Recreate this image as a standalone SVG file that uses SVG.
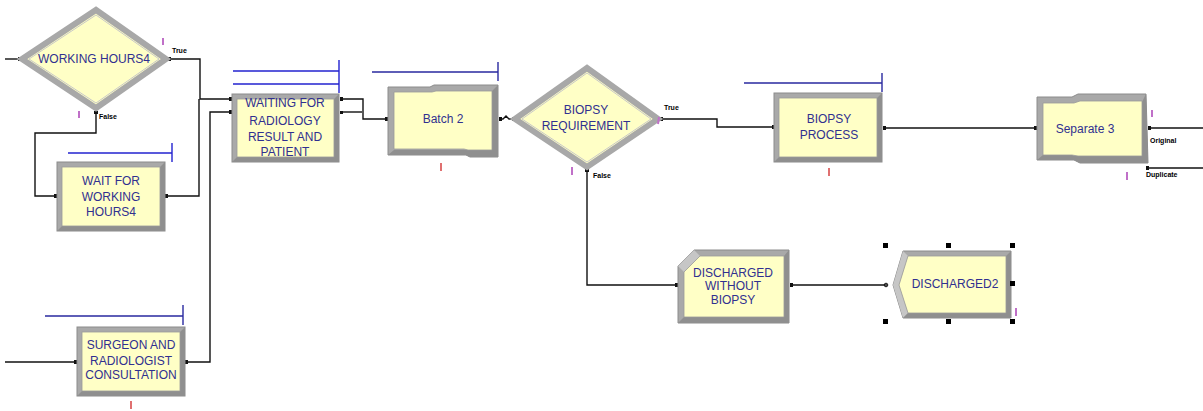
<svg xmlns="http://www.w3.org/2000/svg" width="1203" height="411" viewBox="0 0 1203 411">
<style>
.bg{fill:#ffffff}
.outer{fill:#a9a9a9;stroke:#8c8c8c;stroke-width:1}
.inner{fill:#ffffc6;stroke:#9a9a9a;stroke-width:0.8}
.dark{fill:#8f8f8f}
.light{fill:#c6c6c6}
.dia{fill:#ffffc6;stroke:#a8a8a8;stroke-width:6;stroke-linejoin:miter}
.diain{fill:none;stroke:#c8c8c8;stroke-width:1}
.t{font-family:"Liberation Sans",Arial,sans-serif;font-size:12px;fill:#303090;text-anchor:middle}
.s{font-family:"Liberation Sans",Arial,sans-serif;font-size:7px;font-weight:bold;fill:#000}
.c{fill:none;stroke:#111;stroke-width:1.4}
.q{fill:none;stroke:#2323d0;stroke-width:1.4}
.q2{fill:none;stroke:#2a2aa0;stroke-width:1.4}
.p{fill:#111}
.m{stroke:#c070c8;stroke-width:2}
.o{stroke:#e07070;stroke-width:2}
.h{fill:#000}
</style>
<rect class="bg" x="0" y="0" width="1203" height="411"/>

<g id="connectors">
  <path class="c" d="M5,59 H22"/>
  <path class="c" d="M168,59 H200 V99 H232"/>
  <path class="c" d="M96,110 V133 H35 V196 H57"/>
  <path class="c" d="M166,196 H199 V99"/>
  <path class="c" d="M5,362 H77"/>
  <path class="c" d="M185,362 H210 V112 H232"/>
  <path class="c" d="M340,99 H363 V119 H388"/>
  <path class="c" d="M340,112 H362"/>
  <path class="c" d="M499,119 H503 L506,116 L509,119 H515"/>
  <path class="c" d="M660,119 H717 V127 H775"/>
  <path class="c" d="M587,170 V285 H678"/>
  <path class="c" d="M883,128 H1037"/>
  <path class="c" d="M1148,128 H1203"/>
  <path class="c" d="M1148,168 H1203"/>
  <path class="c" d="M790,285 H887"/>
  <rect class="p" x="18" y="57" width="4" height="4"/>
  <rect class="p" x="168" y="57" width="3" height="4"/>
  <rect class="p" x="94" y="111" width="4" height="3"/>
  <rect class="p" x="54" y="194" width="3" height="4"/>
  <rect class="p" x="165" y="194" width="3" height="4"/>
  <rect class="p" x="74" y="360" width="3" height="4"/>
  <rect class="p" x="185" y="360" width="3" height="4"/>
  <rect class="p" x="229" y="97" width="3" height="4"/>
  <rect class="p" x="229" y="110" width="3" height="4"/>
  <rect class="p" x="340" y="97" width="3" height="4"/>
  <rect class="p" x="340" y="111" width="3" height="3"/>
  <rect class="p" x="385" y="117" width="3" height="4"/>
  <rect class="p" x="499" y="117" width="3" height="4"/>
  <rect class="p" x="512" y="117" width="3" height="4"/>
  <rect class="p" x="660" y="117" width="3" height="4"/>
  <rect class="p" x="585" y="169" width="4" height="3"/>
  <rect class="p" x="772" y="125" width="3" height="4"/>
  <rect class="p" x="883" y="126" width="3" height="4"/>
  <rect class="p" x="1034" y="126" width="3" height="4"/>
  <rect class="p" x="1148" y="126" width="3" height="4"/>
  <rect class="p" x="1146" y="166" width="3" height="4"/>
  <rect class="p" x="675" y="283" width="4" height="4"/>
  <rect class="p" x="790" y="283" width="3" height="4"/>
  <circle cx="886" cy="285" r="1.8" fill="none" stroke="#111" stroke-width="1"/>
</g>

<g id="working-hours4">
  <polygon class="dia" points="22,59 96,10 166,59 96,108"/>
  <polygon class="diain" points="29,59 96,15 159,59 96,103"/>
  <text class="t" x="94" y="63">WORKING HOURS4</text>
  <text class="s" x="172" y="53">True</text>
  <text class="s" x="99" y="119">False</text>
  <line class="m" x1="163" y1="38" x2="163" y2="45"/>
  <line class="m" x1="79" y1="111" x2="79" y2="118"/>
</g>

<g id="wait-for-working-hours4">
  <path class="q" d="M68,153 H172 M172,143 V162"/>
  <rect class="outer" x="57" y="162" width="108" height="69"/>
  <polygon class="dark" points="57,231 165,231 165,162 160,167 160,226 62,226"/>
  <rect class="inner" x="62" y="167" width="98" height="59"/>
  <text class="t" x="111" y="185">WAIT FOR</text>
  <text class="t" x="111" y="201">WORKING</text>
  <text class="t" x="111" y="216">HOURS4</text>
</g>

<g id="surgeon-radiologist-consultation">
  <path class="q2" d="M45,316 H183 M183,305 V325"/>
  <rect class="outer" x="77" y="327" width="108" height="69"/>
  <polygon class="dark" points="77,396 185,396 185,327 180,332 180,391 82,391"/>
  <rect class="inner" x="82" y="332" width="98" height="59"/>
  <text class="t" x="131" y="349">SURGEON AND</text>
  <text class="t" x="131" y="365">RADIOLOGIST</text>
  <text class="t" x="131" y="379">CONSULTATION</text>
  <line class="o" x1="131" y1="401" x2="131" y2="409"/>
</g>

<g id="waiting-for-radiology">
  <path class="q" d="M233,71 H339 M233,84 H339 M339,60 V93"/>
  <rect class="outer" x="232" y="94" width="107" height="68"/>
  <polygon class="dark" points="232,162 339,162 339,94 334,99 334,157 237,157"/>
  <rect class="inner" x="237" y="99" width="97" height="58"/>
  <text class="t" x="285" y="107">WAITING FOR</text>
  <text class="t" x="285" y="125">RADIOLOGY</text>
  <text class="t" x="285" y="141">RESULT AND</text>
  <text class="t" x="285" y="156">PATIENT</text>
</g>

<g id="batch-2">
  <path class="q2" d="M372,72 H498 M498,62 V81"/>
  <polygon class="outer" points="388,87 430,87 434,85 498,85 498,157 470,157 466,155 388,155"/>
  <polygon class="dark" points="388,155 466,155 470,157 498,157 498,85 492,91 492,150 394,150"/>
  <polygon class="inner" points="394,92 432,92 436,91 492,91 492,150 468,150 464,149 394,149"/>
  <text class="t" x="443" y="123">Batch 2</text>
  <line class="o" x1="441" y1="163" x2="441" y2="171"/>
</g>

<g id="biopsy-requirement">
  <polygon class="dia" points="515,119 587,68 658,119 587,167"/>
  <polygon class="diain" points="522,119 587,73 651,119 587,162"/>
  <text class="t" x="586" y="114">BIOPSY</text>
  <text class="t" x="586" y="130">REQUIREMENT</text>
  <text class="s" x="664" y="110">True</text>
  <text class="s" x="593" y="178">False</text>
  <line class="m" x1="572" y1="167" x2="572" y2="175"/>
  <line class="m" x1="659" y1="117" x2="658" y2="124"/>
</g>

<g id="biopsy-process">
  <path class="q2" d="M744,83 H882 M882,73 V92"/>
  <rect class="outer" x="774" y="93" width="108" height="69"/>
  <polygon class="dark" points="774,162 882,162 882,93 877,98 877,157 779,157"/>
  <rect class="inner" x="779" y="98" width="98" height="59"/>
  <text class="t" x="829" y="123">BIOPSY</text>
  <text class="t" x="829" y="139">PROCESS</text>
  <line class="o" x1="829" y1="168" x2="829" y2="176"/>
</g>

<g id="separate-3">
  <polygon class="outer" points="1037,97 1072,97 1078,94 1146,94 1148,163 1080,163 1074,160 1037,160"/>
  <polygon class="dark" points="1037,160 1074,160 1080,163 1148,163 1146,94 1142,102 1142,156 1078,156 1072,155 1043,155"/>
  <polygon class="inner" points="1043,103 1074,103 1080,101 1142,101 1142,156 1078,156 1072,155 1043,155"/>
  <text class="t" x="1085" y="133">Separate 3</text>
  <text class="s" x="1150" y="143">Original</text>
  <text class="s" x="1146" y="177">Duplicate</text>
  <line class="m" x1="1152" y1="110" x2="1152" y2="117"/>
  <line class="m" x1="1127" y1="172" x2="1127" y2="180"/>
</g>

<g id="discharged-without-biopsy">
  <polygon class="outer" points="694,250 789,250 789,323 678,323 678,266"/>
  <polygon class="light" points="694,250 700,256 684,272 678,266"/>
  <polygon class="dark" points="678,323 789,323 789,250 784,256 784,317 684,317"/>
  <polygon class="inner" points="700,256 784,256 784,317 684,317 684,272"/>
  <text class="t" x="733" y="277">DISCHARGED</text>
  <text class="t" x="733" y="290">WITHOUT</text>
  <text class="t" x="733" y="304">BIOPSY</text>
</g>

<g id="discharged2">
  <polygon class="outer" points="903,251 1011,251 1011,318 903,318 893,285"/>
  <polygon class="light" points="903,251 908,256 899,285 893,285"/>
  <polygon class="light" points="893,285 899,285 908,313 903,318"/>
  <polygon class="dark" points="903,318 1011,318 1011,251 1006,256 1006,313 908,313"/>
  <polygon class="inner" points="908,256 1006,256 1006,313 908,313 899,285"/>
  <text class="t" x="955" y="288">DISCHARGED2</text>
  <line class="m" x1="1016" y1="308" x2="1016" y2="316"/>
  <rect class="h" x="883" y="243" width="5" height="5"/>
  <rect class="h" x="946" y="243" width="5" height="5"/>
  <rect class="h" x="1010" y="243" width="5" height="5"/>
  <rect class="h" x="1010" y="281" width="5" height="5"/>
  <rect class="h" x="883" y="319" width="5" height="5"/>
  <rect class="h" x="946" y="319" width="5" height="5"/>
  <rect class="h" x="1010" y="319" width="5" height="5"/>
</g>
</svg>
